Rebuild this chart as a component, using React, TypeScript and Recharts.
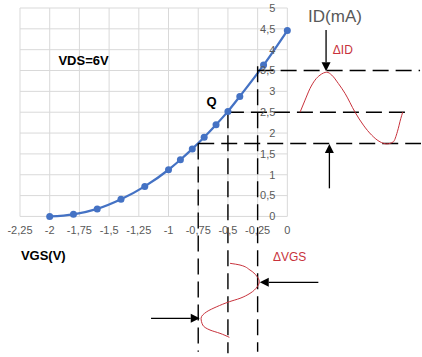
import * as React from 'react';
import { ComposedChart, Line, ReferenceDot, ReferenceLine, XAxis, YAxis } from 'recharts';

// transfer curve
const vgs = [-2, -1.8, -1.6, -1.4, -1.2, -1, -0.9, -0.8, -0.7, -0.6, -0.5, -0.4, -0.2, 0];
const idMa = [0, 0.05, 0.18, 0.41, 0.72, 1.12, 1.36, 1.62, 1.9, 2.2, 2.52, 2.88, 3.63, 4.46];

const xTicks = [-2.25, -2, -1.75, -1.5, -1.25, -1, -0.75, -0.5, -0.25, 0];
const yTicks = [0, 0.5, 1, 1.5, 2, 2.5, 3, 3.5, 4, 4.5, 5];

// output waveform (drawn to the right of the ID axis)
const idWaveX = [0.107, 0.149, 0.191, 0.233, 0.275, 0.332, 0.374, 0.429, 0.486, 0.57, 0.64, 0.71, 0.78, 0.837, 0.892, 0.926, 0.955, 0.971];
const idWaveY = [2.5, 2.79, 3.07, 3.27, 3.39, 3.46, 3.39, 3.19, 2.95, 2.5, 2.19, 1.95, 1.79, 1.74, 1.79, 2.03, 2.35, 2.5];

// input waveform (drawn below the VGS axis)
const vgsWaveX = [-0.482, -0.398, -0.314, -0.258, -0.236, -0.253, -0.314, -0.398, -0.488, -0.594, -0.678, -0.726, -0.712, -0.651, -0.567, -0.488];
const vgsWaveY = [-1.125, -1.166, -1.286, -1.43, -1.566, -1.686, -1.845, -1.964, -2.046, -2.166, -2.286, -2.444, -2.605, -2.725, -2.804, -2.9];

// dashed construction lines [x1, y1, x2, y2]
const dashedLines = [
  [-0.75, 1.75, -0.75, -3.245],
  [-0.5, 2.5, -0.5, -3.285],
  [-0.25, 3.6, -0.25, -3.245],
  [-0.25, 3.5, 1.117, 3.5],
  [-0.5, 2.5, 1.047, 2.5],
  [-0.75, 1.75, 1.125, 1.75],
];

// arrows [fromX, fromY, toX, toY]
const arrows = [
  [0.326, 4.47, 0.326, 3.48],
  [0.354, 0.674, 0.354, 1.74],
  [-1.147, -2.444, -0.737, -2.444],
  [0.261, -1.58, -0.232, -1.58],
];

const notes = [
  { x: -1.715, y: 3.74, text: 'VDS=6V', kind: 'bold' },
  { x: -0.638, y: 2.756, text: 'Q', kind: 'bold' },
  { x: -2.054, y: -0.93, text: 'VGS(V)', kind: 'bold' },
  { x: 0.401, y: 4.82, text: 'ID(mA)', kind: 'title' },
  { x: 0.467, y: 4.0, text: '\u0394ID', kind: 'red' },
  { x: 0.02, y: -0.967, text: '\u0394VGS', kind: 'red' },
];

const curve = vgs.map((x, i) => ({ x, y: idMa[i] }));
const idWave = idWaveX.map((x, i) => ({ x, y: idWaveY[i] }));
const vgsWave = vgsWaveX.map((x, i) => ({ x, y: vgsWaveY[i] }));

const GRID = '#d9d9d9';
const TICK = '#595959';
const BLUE = '#4472c4';
const RED = '#c8323c';
const FONT = '"Liberation Sans", Arial, sans-serif';

const fmt = (v: number) => String(v).replace('.', ',');

const noteStyle: Record<string, { fill: string; fontSize: number; fontWeight: string }> = {
  bold: { fill: '#000', fontSize: 13, fontWeight: 'bold' },
  title: { fill: TICK, fontSize: 17, fontWeight: 'normal' },
  red: { fill: RED, fontSize: 12, fontWeight: 'normal' },
};

function Arrow(props: any) {
  const { x1, y1, x2, y2 } = props;
  const len = Math.hypot(x2 - x1, y2 - y1) || 1;
  const ux = (x2 - x1) / len;
  const uy = (y2 - y1) / len;
  const bx = x2 - ux * 9;
  const by = y2 - uy * 9;
  const pts = `${x2},${y2} ${bx - uy * 4.5},${by + ux * 4.5} ${bx + uy * 4.5},${by - ux * 4.5}`;
  return (
    <g>
      <line x1={x1} y1={y1} x2={bx} y2={by} stroke="#000" strokeWidth={1.3} />
      <polygon points={pts} fill="#000" />
    </g>
  );
}

export default function App(): React.JSX.Element {
  return (
    <div style={{ position: 'absolute', left: 0, top: 0, width: 422, height: 357, background: '#fff', fontFamily: FONT }}>
      <ComposedChart width={422} height={357} margin={{ top: 8, right: 1, bottom: 3, left: 20 }}>
        <XAxis type="number" dataKey="x" domain={[-2.25, 1.125]} allowDataOverflow hide />
        <YAxis type="number" dataKey="y" domain={[-3.3, 5]} allowDataOverflow hide />

        {xTicks.map((t) => (
          <ReferenceLine
            key={`vx${t}`}
            segment={[{ x: t, y: 0 }, { x: t, y: 5 }]}
            stroke={GRID}
            strokeWidth={1}
            label={{ value: fmt(t), position: 'bottom', offset: 10, fill: TICK, fontSize: 11, fontFamily: FONT }}
          />
        ))}
        {yTicks.map((t) => (
          <ReferenceLine
            key={`hy${t}`}
            segment={[{ x: -2.25, y: t }, { x: 0, y: t }]}
            stroke={GRID}
            strokeWidth={1}
            label={{ value: fmt(t), position: 'insideRight', offset: 12, fill: TICK, fontSize: 11, fontFamily: FONT }}
          />
        ))}

        <Line
          data={curve}
          dataKey="y"
          type="monotone"
          stroke={BLUE}
          strokeWidth={2.25}
          dot={{ r: 3.5, fill: BLUE, stroke: BLUE, strokeWidth: 0 }}
          isAnimationActive={false}
        />

        {dashedLines.map(([x1, y1, x2, y2], i) => (
          <ReferenceLine
            key={`d${i}`}
            segment={[{ x: x1, y: y1 }, { x: x2, y: y2 }]}
            stroke="#000"
            strokeWidth={1.4}
            strokeDasharray="16 7"
          />
        ))}

        <Line data={idWave} dataKey="y" type="monotoneX" stroke={RED} strokeWidth={1} dot={false} isAnimationActive={false} />
        <Line data={vgsWave} dataKey="y" type="monotoneY" stroke={RED} strokeWidth={1} dot={false} isAnimationActive={false} />

        {arrows.map(([x1, y1, x2, y2], i) => (
          <ReferenceLine key={`a${i}`} segment={[{ x: x1, y: y1 }, { x: x2, y: y2 }]} stroke="#000" shape={Arrow} />
        ))}

        {notes.map((n) => (
          <ReferenceDot
            key={n.text}
            x={n.x}
            y={n.y}
            r={0}
            fill="none"
            stroke="none"
            label={{ value: n.text, position: 'center', fontFamily: FONT, ...noteStyle[n.kind] }}
          />
        ))}
      </ComposedChart>
    </div>
  );
}
